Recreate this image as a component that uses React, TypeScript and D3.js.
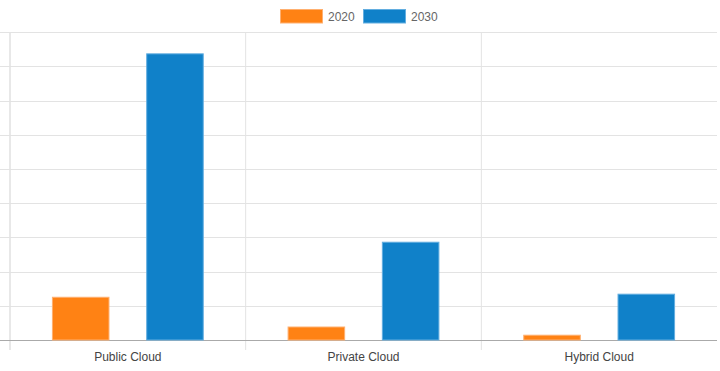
import React from "react";
import * as d3 from "d3";

const categories = ["Public Cloud", "Private Cloud", "Hybrid Cloud"];
const seriesNames = ["2020", "2030"];
const values2020 = [12.5, 3.8, 1.4];
const values2030 = [83.7, 28.6, 13.4];
const yTicks = [0, 10, 20, 30, 40, 50, 60, 70, 80, 90];
const colors = ["#ff8214", "#1081c9"];
const borders = ["#ffb070", "#63aee0"];

const W = 720;
const H = 371;
const left = 10;
const right = 717;
const top = 32.3;
const bottom = 340;

export default function App() {
  const x = d3.scaleBand<string>().domain(categories).range([left, right]).padding(0);
  const bw = x.bandwidth();
  const xs = d3
    .scaleBand<string>()
    .domain(seriesNames)
    .range([bw * 0.1, bw * 0.9])
    .padding(0);
  const slot = xs.bandwidth();
  const barW = slot * 0.6;
  const y = d3.scaleLinear().domain([0, 90]).range([bottom, top]);
  const data = [values2020, values2030];

  const font = "'Liberation Sans', Arial, Helvetica, sans-serif";
  const legendItems = seriesNames.map((s, i) => ({ s, i }));
  const step = 83;
  const totalW = step + 73;
  const lx0 = W / 2 - totalW / 2 - 2;

  return (
    <svg
      width={W}
      height={H}
      style={{ position: "absolute", top: 0, left: 0, display: "block" }}
      fontFamily={font}
    >
      <rect width={W} height={H} fill="#fff" />
      {/* legend */}
      {legendItems.map(({ s, i }) => {
        const lx = lx0 + i * step;
        return (
          <g key={s}>
            <rect
              x={lx + 0.5}
              y={9.5}
              width={42}
              height={13.5}
              fill={colors[i]}
              stroke={borders[i]}
              strokeWidth={1}
            />
            <text x={lx + 48} y={20.5} fontSize={12} fill="#666">
              {s}
            </text>
          </g>
        );
      })}
      {/* horizontal grid */}
      {yTicks.map((t) => (
        <line
          key={t}
          x1={0}
          x2={right}
          y1={Math.round(y(t)) + 0.5}
          y2={Math.round(y(t)) + 0.5}
          stroke={t === 0 ? "#aaaaaa" : "#e3e3e3"}
          strokeWidth={1}
        />
      ))}
      {/* vertical grid */}
      {categories.map((c) => (
        <line
          key={c}
          x1={(x(c) as number)}
          x2={(x(c) as number)}
          y1={top}
          y2={bottom + 10}
          stroke="#e3e3e3"
          strokeWidth={c === categories[0] ? 1.6 : 1}
        />
      ))}
      <line x1={0} x2={right} y1={Math.round(y(0)) + 0.5} y2={Math.round(y(0)) + 0.5} stroke="#aaaaaa" />
      {/* bars */}
      {seriesNames.map((s, si) =>
        categories.map((c, ci) => {
          const cx = (x(c) as number) + (xs(s) as number) + slot / 2;
          const v = data[si][ci];
          const yt = y(v);
          return (
            <rect
              key={s + c}
              x={cx - barW / 2}
              y={yt}
              width={barW}
              height={bottom - yt}
              fill={colors[si]}
              stroke={borders[si]}
              strokeWidth={1}
            />
          );
        })
      )}
      {/* category labels */}
      {categories.map((c) => (
        <text
          key={c}
          x={(x(c) as number) + bw / 2}
          y={361}
          textAnchor="middle"
          fontSize={12}
          fill="#444"
        >
          {c}
        </text>
      ))}
    </svg>
  );
}
